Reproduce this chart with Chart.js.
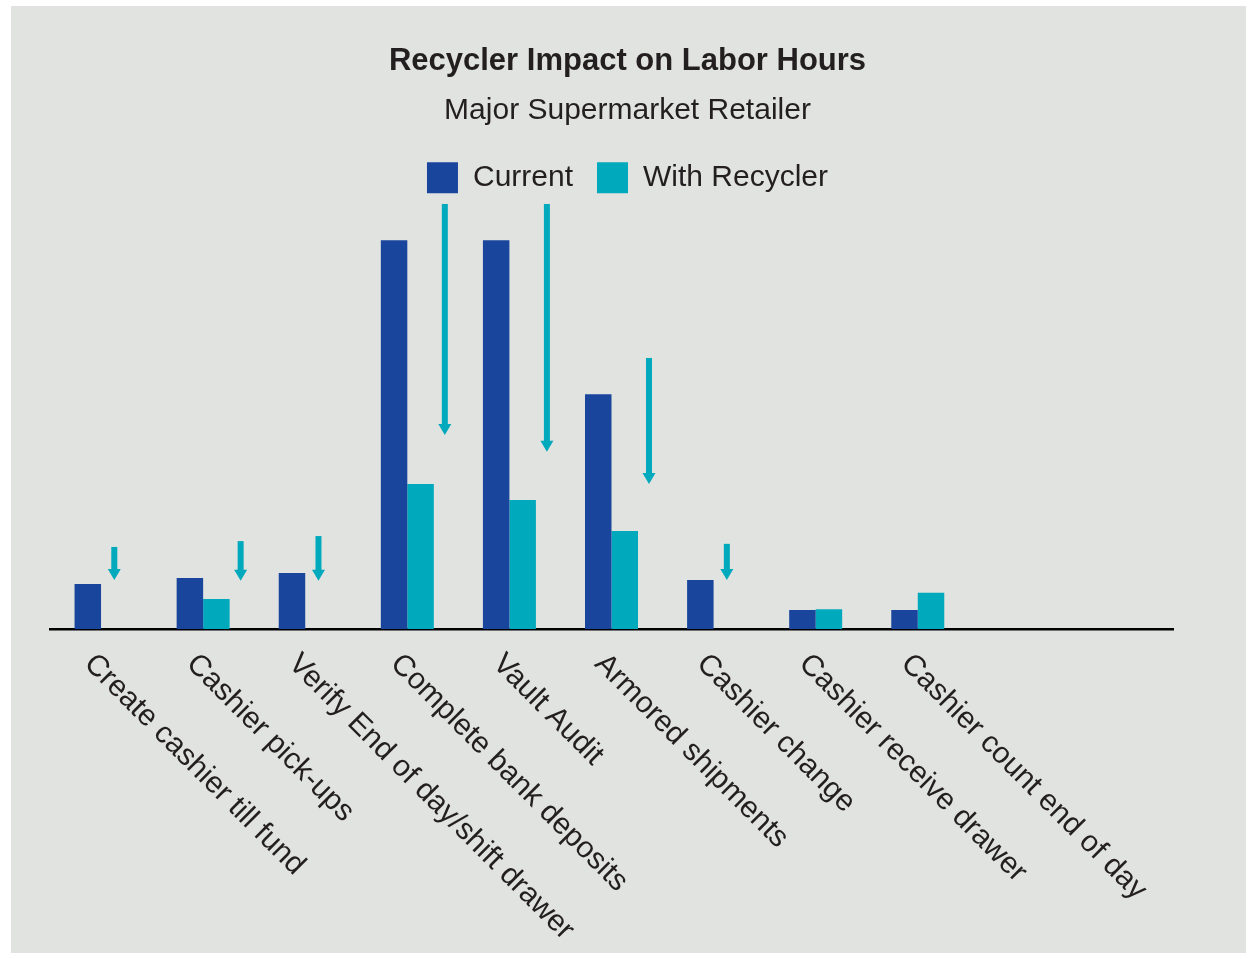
<!DOCTYPE html>
<html>
<head>
<meta charset="utf-8">
<title>Recycler Impact on Labor Hours</title>
<script src="https://cdn.jsdelivr.net/npm/chart.js@4"></script>
<style>
  body { margin: 0; background: #ffffff; }
  #panel {
    position: absolute;
    left: 11px;
    top: 6px;
    width: 1235px;
    height: 947px;
    background: #e1e3e0;
  }
</style>
</head>
<body>
<div id="panel"><canvas id="myChart"></canvas></div>

<script>
// categories (last two slots are empty on the original axis)
const categorias = [
    "Create cashier till fund",
    "Cashier pick-ups",
    "Verify End of day/shift drawer",
    "Complete bank deposits",
    "Vault Audit",
    "Armored shipments",
    "Cashier change",
    "Cashier receive drawer",
    "Cashier count end of day",
    "",
    ""
];

// labor hours (relative)
const actual = [11.6, 13.1, 14.4, 100, 100, 60.4, 12.6, 4.9, 4.9, null, null];
const conRecycler = [null, 7.7, null, 37.3, 33.2, 25.2, null, 5.1, 9.3, null, null];

// arrows: start and end values
const flechaDesde = [21.1, 22.6, 23.9, 109.3, 109.3, 69.7, 21.9, null, null, null, null];
const flechaHasta = [12.6, 12.4, 12.4, 49.9, 45.6, 37.3, 12.6, null, null, null, null];

const azul = "#19469c";
const turquesa = "#01a9bc";
const texto = "#231f20";

Chart.defaults.font.family = "'Liberation Sans', Arial, sans-serif";
Chart.defaults.color = texto;

// down arrows next to each group
const flechasPlugin = {
    id: "flechas",
    afterDatasetsDraw(chart) {
        const ctx = chart.ctx;
        const y = chart.scales.y;
        const meta0 = chart.getDatasetMeta(0);
        const meta1 = chart.getDatasetMeta(1);
        ctx.save();
        ctx.fillStyle = turquesa;
        flechaDesde.forEach((desde, i) => {
            if (desde == null) return;
            const cur = meta0.data[i];
            let x;
            if (conRecycler[i] != null) {
                const rec = meta1.data[i];
                x = rec.x + rec.width / 2 + 11;
            } else {
                x = cur.x + cur.width;
            }
            const y1 = y.getPixelForValue(desde);
            const y2 = y.getPixelForValue(flechaHasta[i]);
            ctx.fillRect(x - 3, y1, 6, y2 - y1 - 10);
            ctx.beginPath();
            ctx.moveTo(x - 6.5, y2 - 11);
            ctx.lineTo(x + 6.5, y2 - 11);
            ctx.lineTo(x, y2);
            ctx.closePath();
            ctx.fill();
        });
        ctx.restore();
    }
};

// rotated category labels, reading downwards
const etiquetasPlugin = {
    id: "etiquetas",
    afterDraw(chart) {
        const ctx = chart.ctx;
        const x = chart.scales.x;
        const base = chart.chartArea.bottom;
        ctx.save();
        ctx.font = "30px 'Liberation Sans', Arial, sans-serif";
        ctx.fillStyle = texto;
        ctx.textAlign = "left";
        ctx.textBaseline = "alphabetic";
        categorias.forEach((cat, i) => {
            if (!cat) return;
            ctx.save();
            ctx.translate(x.getPixelForValue(i) - 18, base + 36);
            ctx.rotate(45 * Math.PI / 180);
            ctx.fillText(cat, 0, 0);
            ctx.restore();
        });
        ctx.restore();
    }
};

const config = {
    type: "bar",
    data: {
        labels: categorias,
        datasets: [{
            label: "Current",
            data: actual,
            backgroundColor: azul,
            borderWidth: 0
        }, {
            label: "With Recycler",
            data: conRecycler,
            backgroundColor: turquesa,
            borderWidth: 0
        }]
    },
    options: {
        responsive: true,
        maintainAspectRatio: false,
        animation: false,
        datasets: {
            bar: { categoryPercentage: 0.519, barPercentage: 1 }
        },
        layout: {
            padding: { top: 0, left: 39, right: 41, bottom: 324 }
        },
        scales: {
            x: {
                grid: { display: false, drawTicks: false },
                border: { display: true, color: "#000000", width: 2.5 },
                ticks: { display: false }
            },
            y: {
                position: "right",
                min: 0,
                max: 109.5,
                grid: { display: false, drawTicks: false },
                border: { display: false },
                ticks: { display: false },
                afterFit(scale) { scale.width = 32; }
            }
        },
        plugins: {
            title: {
                display: true,
                text: "Recycler Impact on Labor Hours",
                color: texto,
                font: { size: 31, weight: "bold" },
                padding: { top: 37, bottom: 13 }
            },
            subtitle: {
                display: true,
                text: "Major Supermarket Retailer",
                color: texto,
                font: { size: 30, weight: "normal" },
                padding: { top: 0, bottom: 9 }
            },
            legend: {
                display: true,
                labels: {
                    boxWidth: 31,
                    boxHeight: 31,
                    padding: 24,
                    color: texto,
                    font: { size: 30 }
                }
            },
            tooltip: { enabled: false }
        }
    },
    plugins: [flechasPlugin, etiquetasPlugin]
};

const chart = new Chart(document.getElementById("myChart"), config);
</script>
</body>
</html>
